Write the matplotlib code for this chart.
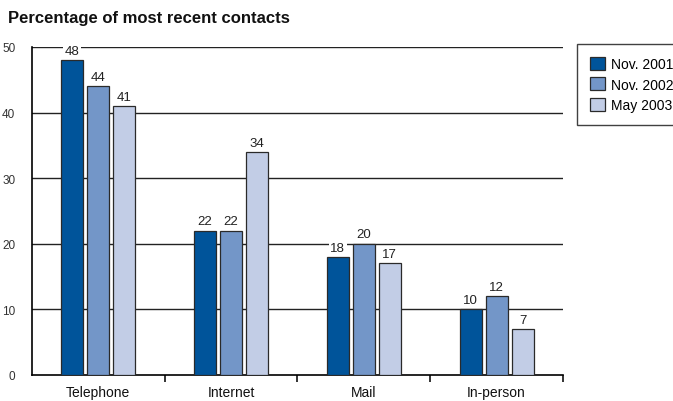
import matplotlib.pyplot as plt
import numpy as np

categories = ["Telephone", "Internet", "Mail", "In-person"]
series_names = ["Nov. 2001", "Nov. 2002", "May 2003"]
nov_2001 = [48, 22, 18, 10]
nov_2002 = [44, 22, 20, 12]
may_2003 = [41, 34, 17, 7]
y_ticks = [0, 10, 20, 30, 40, 50]

colors = ["#00549a", "#7396c8", "#c2cde6"]
edge = "#2a2a2a"

plt.rcParams["font.family"] = ["Liberation Sans", "DejaVu Sans"]

fig = plt.figure(figsize=(6.73, 4.02), dpi=100)
fig.patch.set_facecolor("white")
ax = fig.add_axes([0.0475, 0.0647, 0.789, 0.816])

x = np.arange(len(categories)) + 0.5
pitch = 0.196
width = 0.166
for i, (name, vals) in enumerate(zip(series_names, [nov_2001, nov_2002, may_2003])):
    pos = x + (i - 1) * pitch
    ax.bar(pos, vals, width=width, color=colors[i], edgecolor=edge,
           linewidth=0.9, label=name, zorder=3)
    for p, v in zip(pos, vals):
        ax.text(p, v + 0.5, str(v), ha="center", va="bottom", fontsize=9.5,
                color="#222222", zorder=4,
                bbox=dict(facecolor="white", edgecolor="none", pad=1.0))

ax.set_xlim(0, 4)
ax.set_ylim(0, 50)
ax.set_yticks(y_ticks)
ax.set_yticklabels([str(t) for t in y_ticks], fontsize=8.5, color="#333333")
ax.tick_params(axis="y", length=0, pad=12)
ax.set_xticks([1, 2, 3, 4])
ax.set_xticklabels([])
ax.tick_params(axis="x", length=5, width=1.2, direction="out", color="#111111")
for xc, cat in zip(x, categories):
    ax.text(xc, -1.6, cat, ha="center", va="top", fontsize=10, color="#111111")

for t in y_ticks[1:]:
    ax.axhline(t, xmin=0, xmax=1, color="#222222", linewidth=1.0, zorder=1)

ax.spines[["top", "right"]].set_visible(False)
ax.spines["left"].set_linewidth(1.2)
ax.spines["bottom"].set_linewidth(1.2)

fig.text(8 / 673, 1 - 18 / 402, "Percentage of most recent contacts",
         fontsize=12, fontweight="bold", va="center", ha="left", color="#111111")

leg = ax.legend(loc="upper left", bbox_to_anchor=(577 / 673, 1 - 45 / 402),
                bbox_transform=fig.transFigure, frameon=True, fancybox=False,
                fontsize=10, handlelength=1.1, handleheight=1.1,
                borderpad=0.9, labelspacing=0.45, handletextpad=0.45,
                borderaxespad=0)
leg.get_frame().set_edgecolor("#111111")
leg.get_frame().set_linewidth(1.0)

fig.savefig("out.png", dpi=100)
